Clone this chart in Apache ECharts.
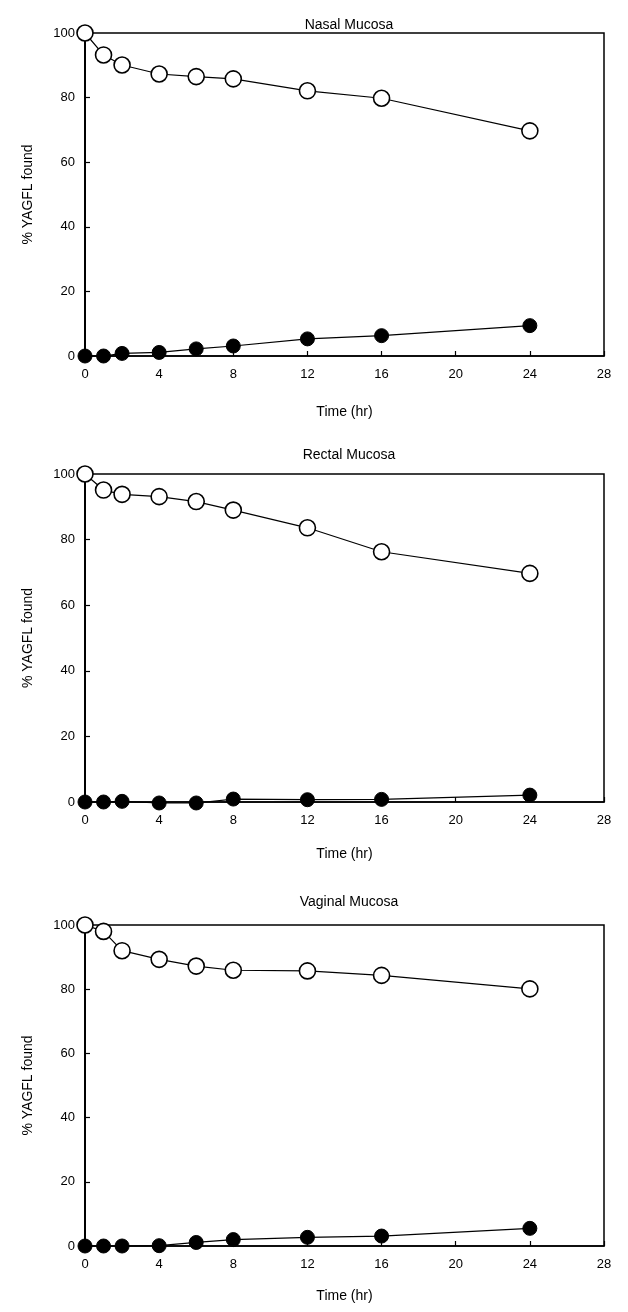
<!DOCTYPE html>
<html>
<head>
<meta charset="utf-8">
<script src="https://cdn.jsdelivr.net/npm/echarts@6/dist/echarts.min.js"></script>
<style>
html, body { margin: 0; padding: 0; background: #fff; }
#chart { width: 628px; height: 1312px; }
</style>
</head>
<body>
<div id="chart"></div>
<script>
// sampling times (hr)
var times = [0, 1, 2, 4, 6, 8, 12, 16, 24];
var panelTitles = ['Nasal Mucosa', 'Rectal Mucosa', 'Vaginal Mucosa'];
var xTicks = [0, 4, 8, 12, 16, 20, 24, 28];
var yTicks = [0, 20, 40, 60, 80, 100];

// % YAGFL found, open circles
var nasalOpen   = [100, 93.2, 90.1, 87.3, 86.5, 85.8, 82.1, 79.8, 69.7];
var rectalOpen  = [100, 95.1, 93.8, 93.1, 91.6, 89.0, 83.6, 76.3, 69.7];
var vaginalOpen = [100, 98.0, 92.0, 89.3, 87.2, 85.9, 85.7, 84.3, 80.1];
// filled circles
var nasalFilled   = [0, 0, 0.8, 1.1, 2.2, 3.1, 5.3, 6.3, 9.4];
var rectalFilled  = [0, 0, 0.2, -0.3, -0.3, 0.9, 0.7, 0.8, 2.1];
var vaginalFilled = [0, 0, 0, 0.1, 1.1, 2.0, 2.7, 3.1, 5.5];

var openData = [nasalOpen, rectalOpen, vaginalOpen];
var filledData = [nasalFilled, rectalFilled, vaginalFilled];

// panel frames: top of plot, height
var panels = [
  { top: 33, height: 323, titleTop: 13, xNameGap: 49 },
  { top: 474, height: 328, titleTop: 443, xNameGap: 45 },
  { top: 925, height: 321, titleTop: 890, xNameGap: 43 }
];

var font = 'Liberation Sans, Arial, Helvetica, sans-serif';

function pairs(ys) {
  return times.map(function (t, i) { return [t, ys[i]]; });
}

var option = {
  backgroundColor: '#fff',
  animation: false,
  title: [],
  grid: [],
  xAxis: [],
  yAxis: [],
  series: []
};

panels.forEach(function (p, k) {
  option.title.push({
    text: panelTitles[k],
    left: 344,
    top: p.titleTop,
    textAlign: 'center',
    textStyle: { fontFamily: font, fontSize: 14, fontWeight: 'normal', color: '#000' }
  });
  option.grid.push({
    left: 85, right: 24, top: p.top, height: p.height,
    show: true, borderColor: '#000', borderWidth: 1.5, backgroundColor: 'transparent'
  });
  option.xAxis.push({
    type: 'value', gridIndex: k, min: xTicks[0], max: xTicks[xTicks.length - 1], interval: 4,
    name: 'Time (hr)', nameLocation: 'middle', nameGap: p.xNameGap,
    nameTextStyle: { fontFamily: font, fontSize: 14, color: '#000' },
    axisLine: { show: true, onZero: false, lineStyle: { color: '#000', width: 1.5 } },
    axisTick: { show: true, inside: true, length: 5, lineStyle: { color: '#000', width: 1.2 } },
    axisLabel: { margin: 12, fontFamily: font, fontSize: 13, color: '#000' },
    splitLine: { show: false }
  });
  option.yAxis.push({
    type: 'value', gridIndex: k, min: yTicks[0], max: yTicks[yTicks.length - 1], interval: 20,
    name: '% YAGFL found', nameLocation: 'middle', nameGap: 50,
    nameTextStyle: { fontFamily: font, fontSize: 14, color: '#000' },
    axisLine: { show: true, lineStyle: { color: '#000', width: 2 } },
    axisTick: { show: true, inside: true, length: 5, lineStyle: { color: '#000', width: 1.2 } },
    axisLabel: { margin: 10, fontFamily: font, fontSize: 13, color: '#000' },
    splitLine: { show: false }
  });
  option.series.push({
    type: 'line', xAxisIndex: k, yAxisIndex: k, data: pairs(openData[k]),
    symbol: 'circle', symbolSize: 16, clip: false,
    lineStyle: { color: '#000', width: 1.2 },
    itemStyle: { color: '#fff', borderColor: '#000', borderWidth: 1.6 },
    z: 3
  });
  option.series.push({
    type: 'line', xAxisIndex: k, yAxisIndex: k, data: pairs(filledData[k]),
    symbol: 'circle', symbolSize: 14, clip: false,
    lineStyle: { color: '#000', width: 1.2 },
    itemStyle: { color: '#000', borderColor: '#000', borderWidth: 1 },
    z: 4
  });
});

var chart = echarts.init(document.getElementById('chart'));
chart.setOption(option);
</script>
</body>
</html>
